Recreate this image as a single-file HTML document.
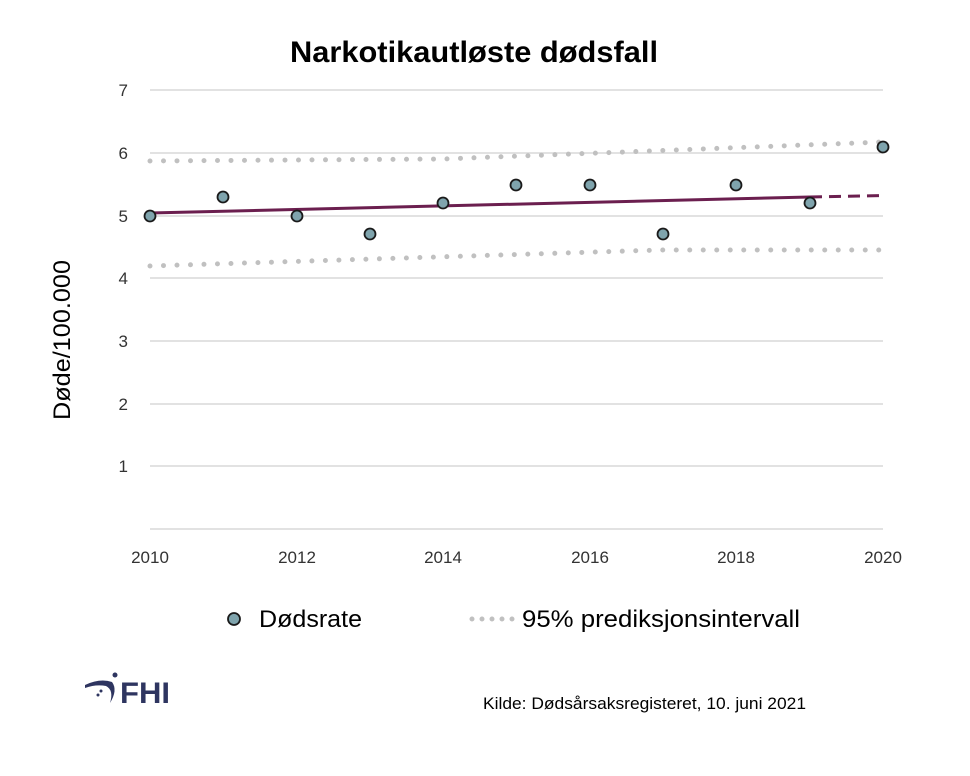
<!DOCTYPE html>
<html><head><meta charset="utf-8"><style>
body{margin:0;background:#fff;}
svg text{font-family:"Liberation Sans",sans-serif;}
</style></head><body>
<svg width="970" height="771" viewBox="0 0 970 771" xmlns="http://www.w3.org/2000/svg">
<rect width="970" height="771" fill="#fff"/>
<text x="474" y="62" text-anchor="middle" font-size="30" font-weight="bold" fill="#000" textLength="368" lengthAdjust="spacingAndGlyphs">Narkotikautløste dødsfall</text>
<g stroke="#d9d9d9" stroke-width="1.5">
<line x1="150" y1="90" x2="883" y2="90"/>
<line x1="150" y1="153" x2="883" y2="153"/>
<line x1="150" y1="216" x2="883" y2="216"/>
<line x1="150" y1="278" x2="883" y2="278"/>
<line x1="150" y1="341" x2="883" y2="341"/>
<line x1="150" y1="404" x2="883" y2="404"/>
<line x1="150" y1="466" x2="883" y2="466"/>
<line x1="150" y1="529" x2="883" y2="529"/>
</g>
<g font-size="17" fill="#333" text-anchor="end">
<text x="128" y="96">7</text><text x="128" y="159">6</text><text x="128" y="222">5</text><text x="128" y="284">4</text><text x="128" y="347">3</text><text x="128" y="410">2</text><text x="128" y="472">1</text>
</g>
<g font-size="17" fill="#333" text-anchor="middle">
<text x="150" y="563">2010</text><text x="297" y="563">2012</text><text x="443" y="563">2014</text><text x="590" y="563">2016</text><text x="736" y="563">2018</text><text x="883" y="563">2020</text>
</g>
<text transform="translate(70,340) rotate(-90)" text-anchor="middle" font-size="24" fill="#000" textLength="160" lengthAdjust="spacingAndGlyphs">Døde/100.000</text>
<g stroke="#c0c0c0" stroke-width="5" stroke-linecap="round" stroke-dasharray="0 13.5" fill="none">
<polyline points="150,161 443,159 883,142"/>
<polyline points="150,266 660,250 883,250"/>
</g>
<line x1="150" y1="213" x2="810" y2="197" stroke="#6b1f4f" stroke-width="3"/>
<line x1="810" y1="197" x2="883" y2="195.5" stroke="#6b1f4f" stroke-width="3" stroke-dasharray="12 7"/>
<g fill="#7fa4ad" stroke="#1a1a1a" stroke-width="1.8">
<circle cx="150" cy="216" r="5.5"/><circle cx="223" cy="197" r="5.5"/><circle cx="297" cy="216" r="5.5"/><circle cx="370" cy="234" r="5.5"/><circle cx="443" cy="203" r="5.5"/><circle cx="516" cy="185" r="5.5"/><circle cx="590" cy="185" r="5.5"/><circle cx="663" cy="234" r="5.5"/><circle cx="736" cy="185" r="5.5"/><circle cx="810" cy="203" r="5.5"/><circle cx="883" cy="147" r="5.5"/>
</g>
<circle cx="234" cy="619" r="6" fill="#7fa4ad" stroke="#1a1a1a" stroke-width="1.8"/>
<text x="259" y="627" font-size="24" fill="#000" textLength="103" lengthAdjust="spacingAndGlyphs">Dødsrate</text>
<line x1="472" y1="619" x2="515" y2="619" stroke="#c0c0c0" stroke-width="5" stroke-linecap="round" stroke-dasharray="0 10"/>
<text x="522" y="627" font-size="24" fill="#000" textLength="278" lengthAdjust="spacingAndGlyphs">95% prediksjonsintervall</text>
<g fill="#2e3560">
<path d="M85 685 Q100 678 112 682 Q118 690 110 703 Q114 690 106 686 Q96 684 85 688 Z"/>
<circle cx="115" cy="675" r="2.5"/><circle cx="101" cy="691" r="1.5"/><circle cx="98" cy="695" r="1.5"/>
</g>
<text x="120" y="703" font-size="30" font-weight="bold" fill="#2e3560" textLength="50" lengthAdjust="spacingAndGlyphs">FHI</text>
<text x="483" y="709" font-size="17" fill="#000" textLength="323" lengthAdjust="spacingAndGlyphs">Kilde: Dødsårsaksregisteret, 10. juni 2021</text>
</svg>
</body></html>
